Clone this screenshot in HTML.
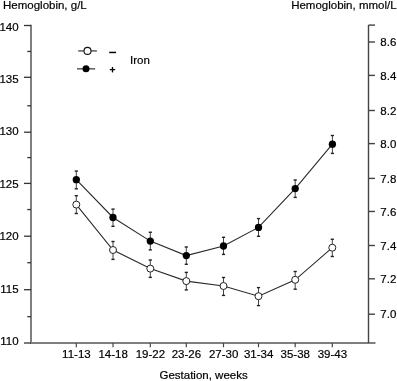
<!DOCTYPE html><html><head><meta charset="utf-8"><style>html,body{margin:0;padding:0;background:#fff;width:397px;height:381px;overflow:hidden}svg{display:block;will-change:transform}text{font-family:"Liberation Sans", sans-serif;font-size:11.5px;fill:#000;stroke:#000;stroke-width:0.2px}</style></head><body>
<svg width="397" height="381" viewBox="0 0 397 381">
<text x="3" y="8.7">Hemoglobin, g/L</text>
<text x="396.6" y="9.1" text-anchor="end">Hemoglobin, mmol/L</text>
<g stroke="#7f7f7f" stroke-width="2" fill="none">
<line x1="31" y1="24.8" x2="31" y2="344"/>
<line x1="30" y1="343" x2="375.5" y2="343"/>
</g>
<g stroke="#333" stroke-width="1.3">
<line x1="24" y1="25.5" x2="31" y2="25.5"/>
<line x1="24" y1="77.3" x2="31" y2="77.3"/>
<line x1="24" y1="132.2" x2="31" y2="132.2"/>
<line x1="24" y1="183.4" x2="31" y2="183.4"/>
<line x1="24" y1="236.2" x2="31" y2="236.2"/>
<line x1="24" y1="289.7" x2="31" y2="289.7"/>
<line x1="24" y1="343.0" x2="31" y2="343.0"/>
<line x1="27.3" y1="51.45" x2="31" y2="51.45"/>
<line x1="27.3" y1="105.8" x2="31" y2="105.8"/>
<line x1="27.3" y1="157.6" x2="31" y2="157.6"/>
<line x1="27.3" y1="209.55" x2="31" y2="209.55"/>
<line x1="27.3" y1="262.7" x2="31" y2="262.7"/>
<line x1="27.3" y1="316.65" x2="31" y2="316.65"/>
</g>
<text x="18.6" y="30.50" text-anchor="end">140</text>
<text x="18.6" y="82.95" text-anchor="end">135</text>
<text x="18.6" y="135.40" text-anchor="end">130</text>
<text x="18.6" y="187.85" text-anchor="end">125</text>
<text x="18.6" y="240.30" text-anchor="end">120</text>
<text x="18.6" y="292.75" text-anchor="end">115</text>
<text x="18.6" y="345.20" text-anchor="end">110</text>
<g stroke="#444" stroke-width="1.4">
<line x1="368.5" y1="25.1" x2="368.5" y2="343"/>
<line x1="368.5" y1="25.1" x2="375" y2="25.1"/>
<line x1="368.5" y1="42.0" x2="375" y2="42.0"/>
<line x1="368.5" y1="75.4" x2="375" y2="75.4"/>
<line x1="368.5" y1="110.5" x2="375" y2="110.5"/>
<line x1="368.5" y1="143.6" x2="375" y2="143.6"/>
<line x1="368.5" y1="178.4" x2="375" y2="178.4"/>
<line x1="368.5" y1="211.45" x2="375" y2="211.45"/>
<line x1="368.5" y1="245.5" x2="375" y2="245.5"/>
<line x1="368.5" y1="278.8" x2="375" y2="278.8"/>
<line x1="368.5" y1="314.2" x2="375" y2="314.2"/>
</g>
<text x="380.3" y="46.10">8.6</text>
<text x="380.3" y="79.50">8.4</text>
<text x="380.3" y="114.60">8.2</text>
<text x="380.3" y="147.70">8.0</text>
<text x="380.3" y="182.50">7.8</text>
<text x="380.3" y="215.55">7.6</text>
<text x="380.3" y="249.60">7.4</text>
<text x="380.3" y="282.90">7.2</text>
<text x="380.3" y="318.30">7.0</text>
<g stroke="#444" stroke-width="1.2">
<line x1="76.3" y1="343" x2="76.3" y2="347.3"/>
<line x1="113.0" y1="343" x2="113.0" y2="347.3"/>
<line x1="150.3" y1="343" x2="150.3" y2="347.3"/>
<line x1="186.3" y1="343" x2="186.3" y2="347.3"/>
<line x1="223.5" y1="343" x2="223.5" y2="347.3"/>
<line x1="258.5" y1="343" x2="258.5" y2="347.3"/>
<line x1="295.2" y1="343" x2="295.2" y2="347.3"/>
<line x1="332.3" y1="343" x2="332.3" y2="347.3"/>
</g>
<text x="76.39999999999999" y="358.1" text-anchor="middle">11-13</text>
<text x="113.1" y="358.1" text-anchor="middle">14-18</text>
<text x="150.4" y="358.1" text-anchor="middle">19-22</text>
<text x="186.4" y="358.1" text-anchor="middle">23-26</text>
<text x="223.6" y="358.1" text-anchor="middle">27-30</text>
<text x="258.6" y="358.1" text-anchor="middle">31-34</text>
<text x="295.3" y="358.1" text-anchor="middle">35-38</text>
<text x="332.40000000000003" y="358.1" text-anchor="middle">39-43</text>
<text x="203.6" y="378.8" text-anchor="middle">Gestation, weeks</text>
<polyline points="76.3,179.7 113.0,217.5 150.3,241.1 186.3,255.6 223.5,246.0 258.5,227.4 295.2,188.6 332.4,144.2" fill="none" stroke="#2a2a2a" stroke-width="1.1"/>
<polyline points="76.3,204.6 113.0,250.0 150.3,268.6 186.3,281.1 223.5,286.0 258.5,296.2 295.2,279.8 332.3,247.7" fill="none" stroke="#2a2a2a" stroke-width="1.1"/>
<line x1="76.3" y1="171.1" x2="76.3" y2="188.8" stroke="#444" stroke-width="1"/>
<line x1="74.7" y1="171.1" x2="77.89999999999999" y2="171.1" stroke="#222" stroke-width="1.4"/>
<line x1="74.7" y1="188.8" x2="77.89999999999999" y2="188.8" stroke="#222" stroke-width="1.4"/>
<line x1="113.0" y1="209.1" x2="113.0" y2="226.3" stroke="#444" stroke-width="1"/>
<line x1="111.4" y1="209.1" x2="114.6" y2="209.1" stroke="#222" stroke-width="1.4"/>
<line x1="111.4" y1="226.3" x2="114.6" y2="226.3" stroke="#222" stroke-width="1.4"/>
<line x1="150.3" y1="232.25" x2="150.3" y2="249.9" stroke="#444" stroke-width="1"/>
<line x1="148.70000000000002" y1="232.25" x2="151.9" y2="232.25" stroke="#222" stroke-width="1.4"/>
<line x1="148.70000000000002" y1="249.9" x2="151.9" y2="249.9" stroke="#222" stroke-width="1.4"/>
<line x1="186.3" y1="247.0" x2="186.3" y2="264.3" stroke="#444" stroke-width="1"/>
<line x1="184.70000000000002" y1="247.0" x2="187.9" y2="247.0" stroke="#222" stroke-width="1.4"/>
<line x1="184.70000000000002" y1="264.3" x2="187.9" y2="264.3" stroke="#222" stroke-width="1.4"/>
<line x1="223.5" y1="237.3" x2="223.5" y2="254.4" stroke="#444" stroke-width="1"/>
<line x1="221.9" y1="237.3" x2="225.1" y2="237.3" stroke="#222" stroke-width="1.4"/>
<line x1="221.9" y1="254.4" x2="225.1" y2="254.4" stroke="#222" stroke-width="1.4"/>
<line x1="258.5" y1="218.6" x2="258.5" y2="236.3" stroke="#444" stroke-width="1"/>
<line x1="256.9" y1="218.6" x2="260.1" y2="218.6" stroke="#222" stroke-width="1.4"/>
<line x1="256.9" y1="236.3" x2="260.1" y2="236.3" stroke="#222" stroke-width="1.4"/>
<line x1="295.2" y1="180.0" x2="295.2" y2="197.4" stroke="#444" stroke-width="1"/>
<line x1="293.59999999999997" y1="180.0" x2="296.8" y2="180.0" stroke="#222" stroke-width="1.4"/>
<line x1="293.59999999999997" y1="197.4" x2="296.8" y2="197.4" stroke="#222" stroke-width="1.4"/>
<line x1="332.4" y1="135.5" x2="332.4" y2="153.4" stroke="#444" stroke-width="1"/>
<line x1="330.79999999999995" y1="135.5" x2="334.0" y2="135.5" stroke="#222" stroke-width="1.4"/>
<line x1="330.79999999999995" y1="153.4" x2="334.0" y2="153.4" stroke="#222" stroke-width="1.4"/>
<line x1="76.3" y1="195.7" x2="76.3" y2="213.5" stroke="#444" stroke-width="1"/>
<line x1="74.7" y1="195.7" x2="77.89999999999999" y2="195.7" stroke="#222" stroke-width="1.4"/>
<line x1="74.7" y1="213.5" x2="77.89999999999999" y2="213.5" stroke="#222" stroke-width="1.4"/>
<line x1="113.0" y1="241.5" x2="113.0" y2="259.4" stroke="#444" stroke-width="1"/>
<line x1="111.4" y1="241.5" x2="114.6" y2="241.5" stroke="#222" stroke-width="1.4"/>
<line x1="111.4" y1="259.4" x2="114.6" y2="259.4" stroke="#222" stroke-width="1.4"/>
<line x1="150.3" y1="260.0" x2="150.3" y2="277.4" stroke="#444" stroke-width="1"/>
<line x1="148.70000000000002" y1="260.0" x2="151.9" y2="260.0" stroke="#222" stroke-width="1.4"/>
<line x1="148.70000000000002" y1="277.4" x2="151.9" y2="277.4" stroke="#222" stroke-width="1.4"/>
<line x1="186.3" y1="272.4" x2="186.3" y2="289.9" stroke="#444" stroke-width="1"/>
<line x1="184.70000000000002" y1="272.4" x2="187.9" y2="272.4" stroke="#222" stroke-width="1.4"/>
<line x1="184.70000000000002" y1="289.9" x2="187.9" y2="289.9" stroke="#222" stroke-width="1.4"/>
<line x1="223.5" y1="277.5" x2="223.5" y2="295.4" stroke="#444" stroke-width="1"/>
<line x1="221.9" y1="277.5" x2="225.1" y2="277.5" stroke="#222" stroke-width="1.4"/>
<line x1="221.9" y1="295.4" x2="225.1" y2="295.4" stroke="#222" stroke-width="1.4"/>
<line x1="258.5" y1="287.6" x2="258.5" y2="305.6" stroke="#444" stroke-width="1"/>
<line x1="256.9" y1="287.6" x2="260.1" y2="287.6" stroke="#222" stroke-width="1.4"/>
<line x1="256.9" y1="305.6" x2="260.1" y2="305.6" stroke="#222" stroke-width="1.4"/>
<line x1="295.2" y1="271.5" x2="295.2" y2="289.2" stroke="#444" stroke-width="1"/>
<line x1="293.59999999999997" y1="271.5" x2="296.8" y2="271.5" stroke="#222" stroke-width="1.4"/>
<line x1="293.59999999999997" y1="289.2" x2="296.8" y2="289.2" stroke="#222" stroke-width="1.4"/>
<line x1="332.3" y1="239.25" x2="332.3" y2="256.5" stroke="#444" stroke-width="1"/>
<line x1="330.7" y1="239.25" x2="333.90000000000003" y2="239.25" stroke="#222" stroke-width="1.4"/>
<line x1="330.7" y1="256.5" x2="333.90000000000003" y2="256.5" stroke="#222" stroke-width="1.4"/>
<circle cx="76.3" cy="179.7" r="3.65" fill="#000"/>
<circle cx="113.0" cy="217.5" r="3.65" fill="#000"/>
<circle cx="150.3" cy="241.1" r="3.65" fill="#000"/>
<circle cx="186.3" cy="255.6" r="3.65" fill="#000"/>
<circle cx="223.5" cy="246.0" r="3.65" fill="#000"/>
<circle cx="258.5" cy="227.4" r="3.65" fill="#000"/>
<circle cx="295.2" cy="188.6" r="3.65" fill="#000"/>
<circle cx="332.4" cy="144.2" r="3.65" fill="#000"/>
<circle cx="76.3" cy="204.6" r="3.5" fill="#fff" stroke="#222" stroke-width="1.0"/>
<circle cx="113.0" cy="250.0" r="3.5" fill="#fff" stroke="#222" stroke-width="1.0"/>
<circle cx="150.3" cy="268.6" r="3.5" fill="#fff" stroke="#222" stroke-width="1.0"/>
<circle cx="186.3" cy="281.1" r="3.5" fill="#fff" stroke="#222" stroke-width="1.0"/>
<circle cx="223.5" cy="286.0" r="3.5" fill="#fff" stroke="#222" stroke-width="1.0"/>
<circle cx="258.5" cy="296.2" r="3.5" fill="#fff" stroke="#222" stroke-width="1.0"/>
<circle cx="295.2" cy="279.8" r="3.5" fill="#fff" stroke="#222" stroke-width="1.0"/>
<circle cx="332.3" cy="247.7" r="3.5" fill="#fff" stroke="#222" stroke-width="1.0"/>
<line x1="78.2" y1="50.9" x2="96.9" y2="50.9" stroke="#666" stroke-width="1.6"/>
<circle cx="87.5" cy="50.9" r="3.5" fill="#fff" stroke="#111" stroke-width="1.1"/>
<line x1="77.0" y1="68.8" x2="95.2" y2="68.8" stroke="#666" stroke-width="1.6"/>
<circle cx="86.0" cy="68.8" r="3.5" fill="#000"/>
<line x1="109.2" y1="52.45" x2="116.1" y2="52.45" stroke="#000" stroke-width="1.5"/>
<line x1="109.8" y1="69.6" x2="115.2" y2="69.6" stroke="#000" stroke-width="1.3"/>
<line x1="112.5" y1="67" x2="112.5" y2="72.4" stroke="#000" stroke-width="1.3"/>
<text x="130" y="64.4">Iron</text>
</svg></body></html>
